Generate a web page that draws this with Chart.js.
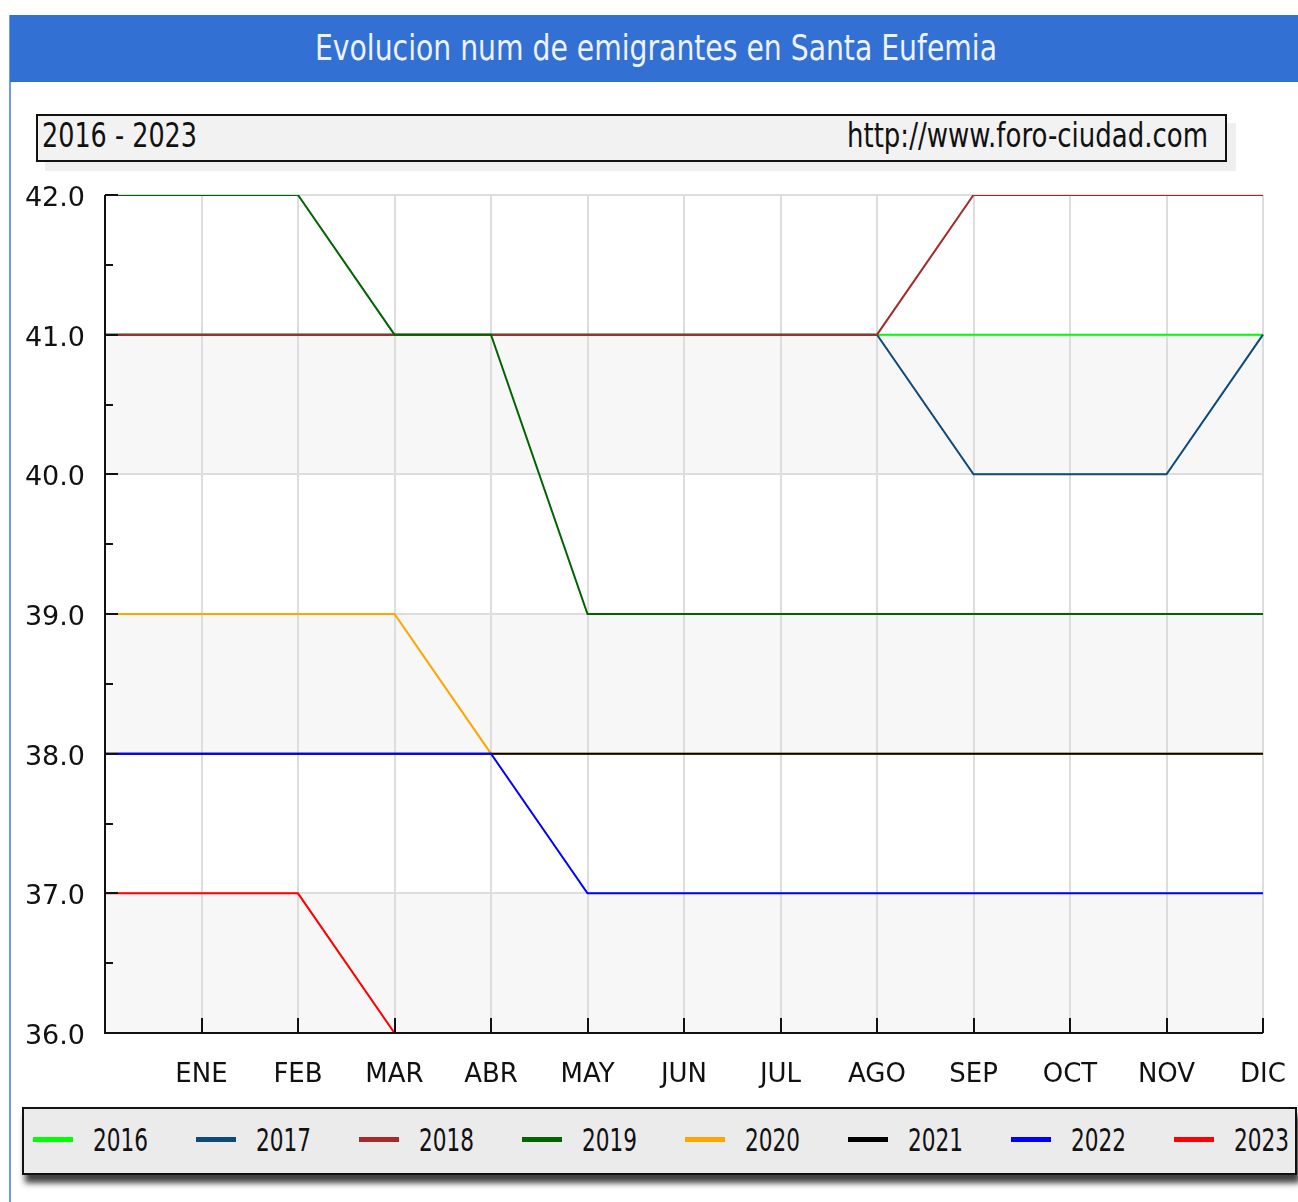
<!DOCTYPE html>
<html>
<head>
<meta charset="utf-8">
<title>Evolucion num de emigrantes en Santa Eufemia</title>
<script src="https://cdn.jsdelivr.net/npm/chart.js"></script>
<style>
  body { margin:0; width:1298px; height:1202px; position:relative; overflow:hidden; background:#fff; font-family:"DejaVu Sans", sans-serif; }
  #frame { position:absolute; left:9px; top:15px; height:1187px; border-left:2px solid #6f9be4; }
  #header { position:absolute; left:10px; top:15px; width:1288px; height:67px; background:#3370d4; }
  .txt { position:absolute; white-space:nowrap; display:inline-block; transform-origin:0 50%; line-height:1; }
  #title { color:#eef3fb; font-size:36px; left:305px; top:15px; }
  #sub { position:absolute; left:36px; top:114px; width:1187px; height:44px; background:#f2f2f2; border:2px solid #111; box-shadow:9px 9px 0 #efefef; }
  #legend { position:absolute; left:22px; top:1107px; width:1271px; height:64px; background:#ebebeb; border:2px solid #111; box-shadow:3px 8px 6px rgba(0,0,0,0.75); }
  .sw { position:absolute; width:40px; height:5px; }
  canvas { position:absolute; left:0; top:0; }
</style>
</head>
<body>
<div id="frame"></div>
<div id="header"><span class="txt" id="title" data-w="682">Evolucion num de emigrantes en Santa Eufemia</span></div>
<div id="sub"></div>
<span class="txt" style="left:42px;top:119px;font-size:33px;color:#111" data-w="155">2016 - 2023</span>
<span class="txt" style="left:847px;top:119px;font-size:33px;color:#111" data-w="361">http://www.foro-ciudad.com</span>
<div id="legend"></div>
<canvas id="myChart" width="1298" height="1202"></canvas>

<script>
// categorias (la primera posicion no lleva etiqueta)
const months = ["", "ENE", "FEB", "MAR", "ABR", "MAY", "JUN", "JUL", "AGO", "SEP", "OCT", "NOV", "DIC"];
const years = ["2016", "2017", "2018", "2019", "2020", "2021", "2022", "2023"];
const colors = ["#00ff00", "#0d4a7a", "#a52a2a", "#006400", "#ffa500", "#000000", "#0000ff", "#ff0000"];

const v2016 = [41, 41, 41, 41, 41, 41, 41, 41, 41, 41, 41, 41, 41];
const v2017 = [41, 41, 41, 41, 41, 41, 41, 41, 41, 40, 40, 40, 41];
const v2018 = [41, 41, 41, 41, 41, 41, 41, 41, 41, 42, 42, 42, 42];
const v2019 = [42, 42, 42, 41, 41, 39, 39, 39, 39, 39, 39, 39, 39];
const v2020 = [39, 39, 39, 39, 38, 38, 38, 38, 38, 38, 38, 38, 38];
const v2021 = [38, 38, 38, 38, 38, 38, 38, 38, 38, 38, 38, 38, 38];
const v2022 = [38, 38, 38, 38, 38, 37, 37, 37, 37, 37, 37, 37, 37];
const v2023 = [37, 37, 37, 36];

const yMin = 36, yMax = 42;
const bands = [[40, 41], [38, 39], [36, 37]];

const series = [v2016, v2017, v2018, v2019, v2020, v2021, v2022, v2023];

// fondo a bandas
const bandPlugin = {
  id: "bands",
  beforeDraw(chart) {
    const ctx = chart.ctx, a = chart.chartArea, y = chart.scales.y;
    ctx.save();
    ctx.fillStyle = "#f7f7f7";
    bands.forEach(b => {
      const top = y.getPixelForValue(b[1]);
      const bot = y.getPixelForValue(b[0]);
      ctx.fillRect(a.left, top, a.right - a.left, bot - top);
    });
    ctx.restore();
  }
};

// ejes con marcas hacia dentro
const axisPlugin = {
  id: "axes",
  afterDatasetsDraw(chart) {
    const ctx = chart.ctx, a = chart.chartArea, x = chart.scales.x, y = chart.scales.y;
    ctx.save();
    ctx.strokeStyle = "#111";
    ctx.lineWidth = 2;
    ctx.beginPath();
    ctx.moveTo(a.left, a.top);
    ctx.lineTo(a.left, a.bottom);
    ctx.lineTo(a.right, a.bottom);
    for (let v = yMin; v <= yMax; v += 0.5) {
      const py = Math.round(y.getPixelForValue(v));
      const len = (v % 1 === 0) ? 13 : 8;
      ctx.moveTo(a.left, py);
      ctx.lineTo(a.left + len, py);
    }
    for (let i = 1; i < months.length; i++) {
      const px = Math.round(x.getPixelForValue(i));
      ctx.moveTo(px, a.bottom);
      ctx.lineTo(px, a.bottom - 15);
    }
    ctx.stroke();
    ctx.restore();
  }
};

const ctx = document.getElementById("myChart");

new Chart(ctx, {
  type: "line",
  data: {
    labels: months,
    datasets: series.map((d, i) => ({
      label: years[i],
      data: d,
      borderColor: colors[i],
      backgroundColor: colors[i],
      borderWidth: 2,
      pointRadius: 0,
      tension: 0,
      fill: false,
      order: series.length - 1 - i
    }))
  },
  options: {
    responsive: false,
    animation: false,
    events: [],
    layout: { padding: { left: 0, top: 195, right: 35, bottom: 109 } },
    plugins: {
      legend: { display: false },
      title: { display: false },
      tooltip: { enabled: false }
    },
    scales: {
      x: {
        offset: false,
        grid: { color: "#dddddd", lineWidth: 2, drawTicks: false },
        border: { display: false },
        ticks: {
          autoSkip: false, maxRotation: 0, padding: 27, color: "#111",
          font: { family: "DejaVu Sans", size: 26 }
        },
        afterFit: s => { s.height = 60; s.paddingLeft = 0; s.paddingRight = 0; }
      },
      y: {
        min: yMin,
        max: yMax,
        grid: { color: "#dddddd", lineWidth: 2, drawTicks: false },
        border: { display: false },
        ticks: {
          stepSize: 1, padding: 20, labelOffset: 4, color: "#111",
          font: { family: "DejaVu Sans", size: 27 },
          callback: v => Number(v).toFixed(1)
        },
        afterFit: s => { s.width = 105; s.paddingTop = 0; s.paddingBottom = 0; }
      }
    }
  },
  plugins: [bandPlugin, axisPlugin]
});

// leyenda
const legend = document.getElementById("legend");
years.forEach((yr, i) => {
  const sw = document.createElement("div");
  sw.className = "sw";
  sw.style.left = (33 + 163 * i - 24) + "px";
  sw.style.top = "28px";
  sw.style.background = colors[i];
  legend.appendChild(sw);
  const t = document.createElement("span");
  t.className = "txt";
  t.textContent = yr;
  t.style.left = (93 + 163 * i - 24) + "px";
  t.style.top = "15px";
  t.style.fontSize = "32px";
  t.style.color = "#111";
  t.dataset.w = "55";
  legend.appendChild(t);
});

// ajustar el ancho de los textos
document.querySelectorAll("[data-w]").forEach(el => {
  const w = el.getBoundingClientRect().width;
  el.style.transform = "scaleX(" + (Number(el.dataset.w) / w) + ")";
});
</script>
</body>
</html>
